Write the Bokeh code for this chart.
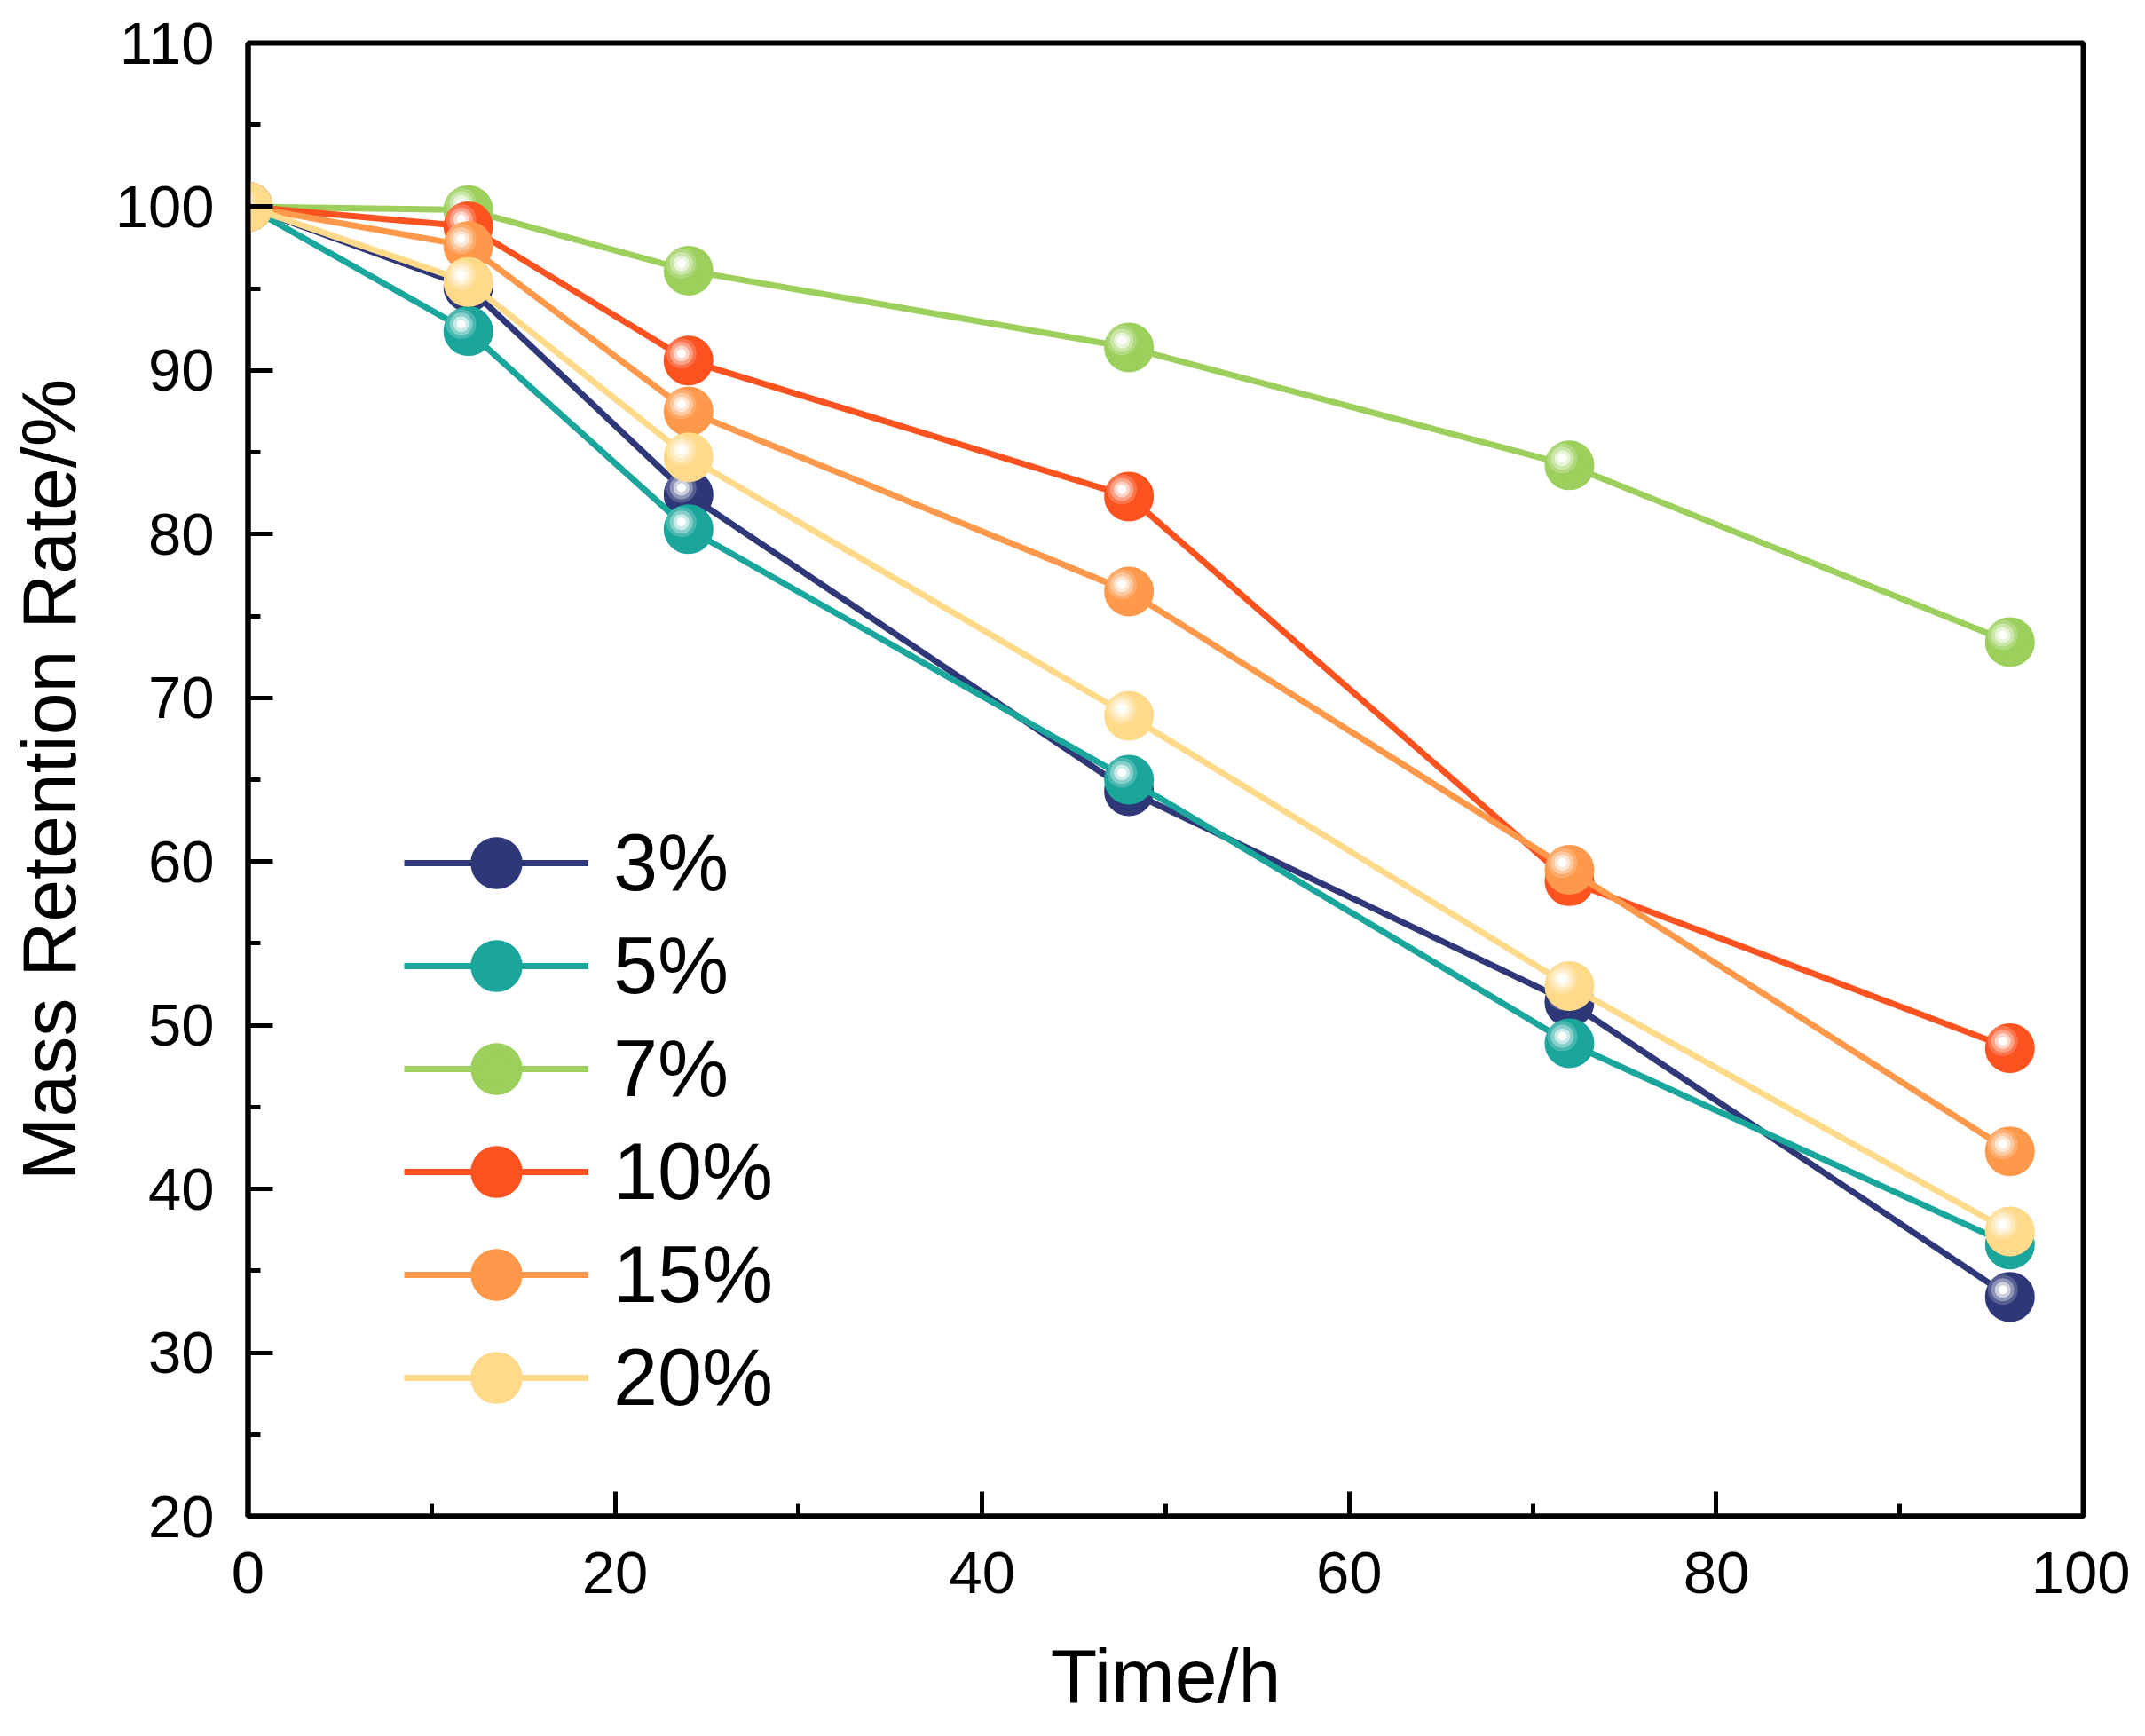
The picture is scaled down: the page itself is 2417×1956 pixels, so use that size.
from bokeh.plotting import figure
from bokeh.models import SingleIntervalTicker, Legend, LegendItem, Range1d
from bokeh.embed import file_html
from bokeh.resources import INLINE
import numpy as np

# ---- data ----
time_h = [0, 12, 24, 48, 72, 96]
series_labels = ["3%", "5%", "7%", "10%", "15%", "20%"]
rate_3 = [100, 95.1, 82.4, 64.3, 51.4, 33.4]
rate_5 = [100, 92.4, 80.3, 65.0, 48.9, 36.6]
rate_7 = [100, 99.8, 96.1, 91.4, 84.2, 73.4]
rate_10 = [100, 98.8, 90.6, 82.3, 58.8, 48.6]
rate_15 = [100, 97.6, 87.5, 76.5, 59.5, 42.3]
rate_20 = [100, 95.4, 84.7, 68.9, 52.4, 37.4]
series_values = [rate_3, rate_5, rate_7, rate_10, rate_15, rate_20]
colors = ["#2E3878", "#1BA69C", "#9CCF5C", "#FC5220", "#FE984A", "#FFDA8A"]

X_START, X_END = 0, 100
Y_START, Y_END = 20, 110

W, H = 2400, 1940
BL, BR, BT, BB = 279, 53, 48, 232
FW, FH = W - BL - BR, H - BT - BB

FONT = "Liberation Sans"

p = figure(width=W, height=H, output_backend="svg", toolbar_location=None,
           x_range=Range1d(X_START, X_END), y_range=Range1d(Y_START, Y_END),
           min_border_left=BL, min_border_right=BR, min_border_top=BT,
           min_border_bottom=BB)
p.background_fill_color = "white"
p.border_fill_color = "white"
p.grid.visible = False
p.outline_line_color = "black"
p.outline_line_width = 6

p.xaxis.ticker = SingleIntervalTicker(interval=20, num_minor_ticks=2)
p.yaxis.ticker = SingleIntervalTicker(interval=10, num_minor_ticks=2)

for ax in (p.xaxis[0], p.yaxis[0]):
    ax.axis_line_width = 6
    ax.axis_line_color = "black"
    ax.major_tick_line_width = 5
    ax.minor_tick_line_width = 5
    ax.major_tick_out = 0
    ax.minor_tick_out = 0
    ax.major_tick_in = 28
    ax.minor_tick_in = 14
    ax.major_label_text_font = FONT
    ax.major_label_text_font_size = "67px"
    ax.major_label_text_color = "black"
    ax.axis_label_text_font = FONT
    ax.axis_label_text_font_size = "86px"
    ax.axis_label_text_font_style = "normal"
    ax.axis_label_text_color = "black"

p.xaxis.axis_label = "Time/h"
p.yaxis.axis_label = "Mass Retention Rate/%"
p.xaxis.major_label_standoff = 40
p.yaxis.major_label_standoff = 38
p.xaxis.axis_label_standoff = 42
p.yaxis.axis_label_standoff = 24

# pixel -> data conversions for the glossy highlight offset
dx = -8 * (X_END - X_START) / FW
dy = 8 * (Y_END - Y_START) / FH


def lighten(hexc, f):
    h = hexc.lstrip("#")
    r, g, b = (int(h[i:i + 2], 16) for i in (0, 2, 4))
    r = int(r + (255 - r) * f)
    g = int(g + (255 - g) * f)
    b = int(b + (255 - b) * f)
    return "#%02x%02x%02x" % (r, g, b)


items = []
t = np.array(time_h, dtype=float)
for lab, vals, col in zip(series_labels, series_values, colors):
    v = np.array(vals, dtype=float)
    ln = p.line(t, v, line_color=col, line_width=7)
    base = p.scatter(t, v, size=44, marker="circle", fill_color=col,
                     line_color=col, line_width=12)
    p.scatter(t + dx, v + dy, size=34, marker="circle",
              fill_color=lighten(col, 0.25), line_color=None, fill_alpha=0.8)
    p.scatter(t + dx, v + dy, size=26, marker="circle",
              fill_color=lighten(col, 0.5), line_color=None, fill_alpha=0.9)
    p.scatter(t + dx, v + dy, size=18, marker="circle",
              fill_color=lighten(col, 0.78), line_color=None, fill_alpha=0.95)
    p.scatter(t + dx, v + dy, size=10, marker="circle",
              fill_color="white", line_color=None, fill_alpha=1.0)
    items.append(LegendItem(label=lab, renderers=[ln, base]))

legend = Legend(items=items, location=(176, 98))
legend.glyph_width = 208
legend.glyph_height = 116
legend.label_height = 104
legend.spacing = 0
legend.padding = 0
legend.margin = 0
legend.label_standoff = 28
legend.border_line_color = None
legend.background_fill_alpha = 0
legend.label_text_font = FONT
legend.label_text_font_size = "90px"
legend.label_text_color = "black"
legend.label_text_baseline = "middle"
p.add_layout(legend, "center")

open("out.html", "w").write(file_html(p, INLINE))
